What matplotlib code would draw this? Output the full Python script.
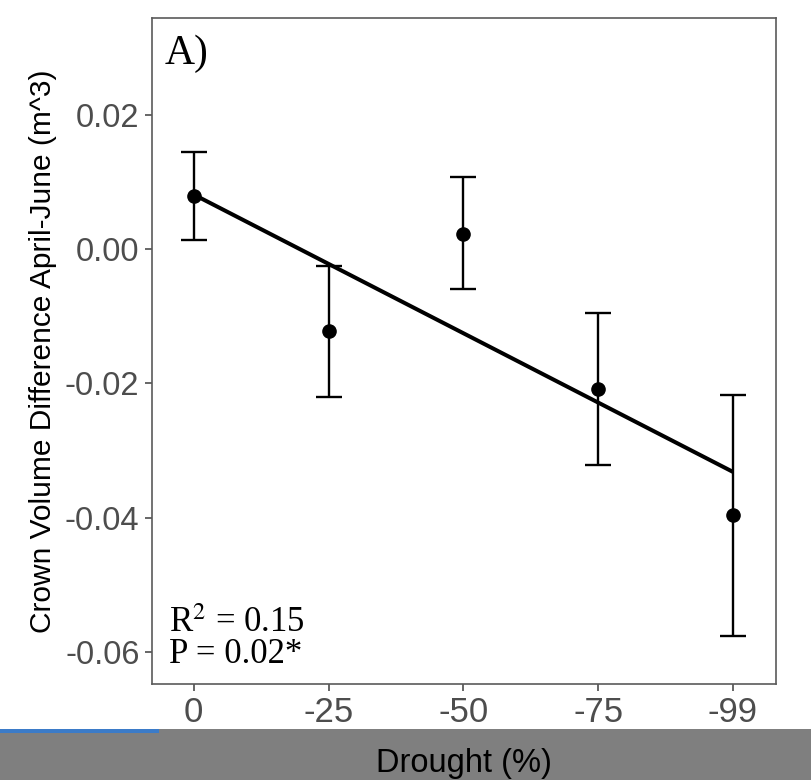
import matplotlib
matplotlib.use("Agg")
import matplotlib.pyplot as plt
from matplotlib.patches import Rectangle
import numpy as np

plt.rcParams["mathtext.fontset"] = "stix"

# ---- data ----
categories = ["0", "-25", "-50", "-75", "-99"]
means = [0.0079, -0.0122, 0.0023, -0.0208, -0.0397]
upper = [0.0145, -0.0026, 0.0107, -0.0095, -0.0218]
lower = [0.0013, -0.0220, -0.0060, -0.0322, -0.0576]
fit_ends = [0.0081, -0.0332]   # fitted line values at 0 and -99
y_ticks = [0.02, 0.00, -0.02, -0.04, -0.06]
y_ticklabels = ["0.02", "0.00", "-0.02", "-0.04", "-0.06"]

W, H = 811, 780
fig = plt.figure(figsize=(W / 100, H / 100), dpi=100)
ax = fig.add_axes([152 / W, 1 - 684 / H, (776 - 152) / W, (684 - 18) / H])

x = np.arange(1, len(categories) + 1)
m = np.array(means)
yerr = np.vstack([m - np.array(lower), np.array(upper) - m])

ax.errorbar(x, m, yerr=yerr, fmt="o", color="black", ms=9.5, elinewidth=1.7,
            capsize=9.7, capthick=1.7, zorder=3)
ax.plot([x[0], x[-1]], fit_ends, color="black", lw=2.9, solid_capstyle="butt", zorder=2)

ax.set_xlim(0.69, 5.32)
ax.set_ylim(-0.0648, 0.0344)
ax.set_xticks(x)
ax.set_xticklabels(categories)
ax.set_yticks(y_ticks)
ax.set_yticklabels(y_ticklabels)

tick_color = "#4D4D4D"
for sp in ax.spines.values():
    sp.set_color("#5a5a5a")
    sp.set_linewidth(1.2)
ax.tick_params(axis="both", colors="#4D4D4D", length=5, width=1.2)
ax.tick_params(axis="x", labelsize=25, pad=4, labelcolor=tick_color)
ax.tick_params(axis="y", labelsize=23.5, pad=4, labelcolor=tick_color)
for lab in ax.get_xticklabels() + ax.get_yticklabels():
    lab.set_family(["Liberation Sans"])

ax.set_ylabel("Crown Volume Difference April-June (m^3)", fontsize=21.5,
              family=["Liberation Sans"], color="black", labelpad=6)
ax.set_xlabel("Drought (%)", fontsize=23.5, family=["Liberation Sans"],
              color="black", labelpad=13)

ax.text(0.02, 0.975, "A)", transform=ax.transAxes, ha="left", va="top",
        fontsize=30, family=["Liberation Serif"], color="black")
ax.text(0.028, 0.078, "R$^{2}$ = 0.15", transform=ax.transAxes,
        ha="left", va="baseline", fontsize=25, family=["Liberation Serif"], color="black")
ax.text(0.028, 0.0315, "P = 0.02*", transform=ax.transAxes,
        ha="left", va="baseline", fontsize=25, family=["Liberation Serif"], color="black")

# grey bar at bottom (screen-capture strip)
fig.patches.append(Rectangle((0, 0), 1, (H - 729) / H, transform=fig.transFigure,
                             facecolor="#7f7f7f", edgecolor="none", zorder=-1))
fig.patches.append(Rectangle((0, (H - 733) / H), 159 / W, 4 / H, transform=fig.transFigure,
                             facecolor="#3b7bc8", edgecolor="none", zorder=-1))

fig.savefig("out.png", dpi=100)
